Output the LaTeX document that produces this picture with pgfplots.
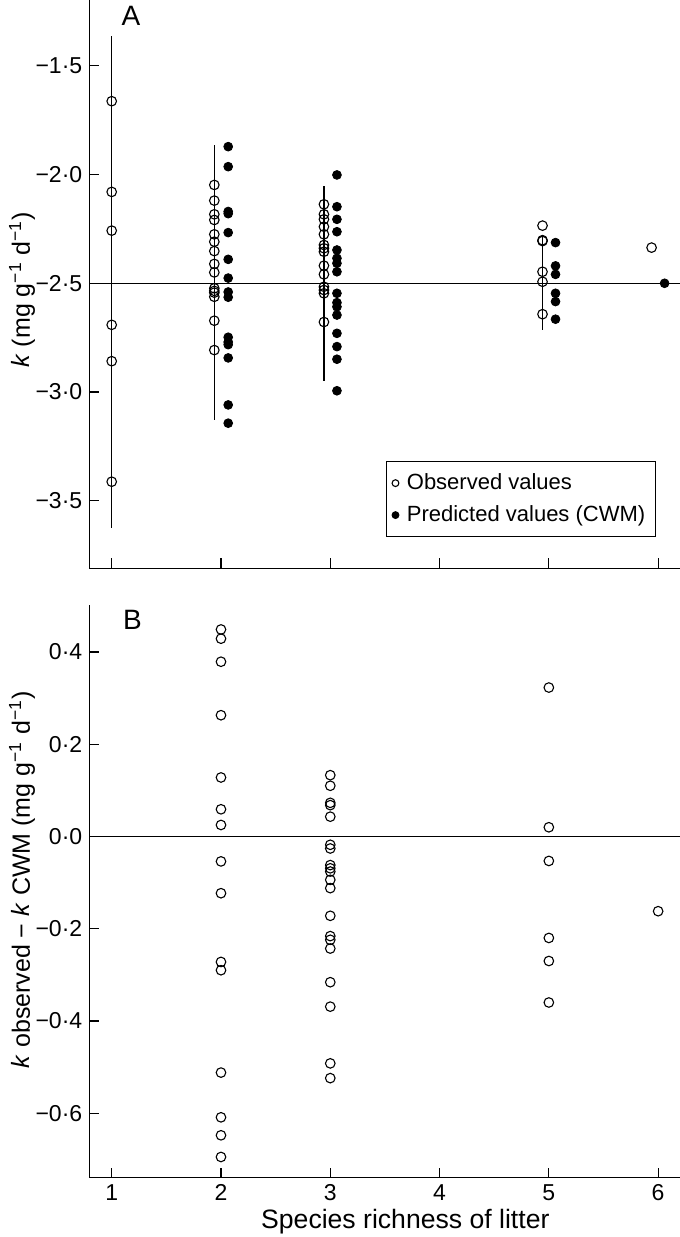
\documentclass[border=0pt]{standalone}
\usepackage{fontspec}
\setmainfont{Liberation Sans}
\usepackage{pgfplots}
\pgfplotsset{compat=1.18}
\begin{document}
\begin{tikzpicture}
\useasboundingbox (0,0) rectangle (340pt,-618.5pt);
\pgfplotsset{
  myax/.style={scale only axis, width=295.35pt, xmin=0.795, xmax=6.2,
    axis x line*=bottom, axis y line*=left, axis line style={-, line width=0.6pt},
    tick align=inside, major tick length=5pt, xtick={1,2,3,4,5,6},
    tick style={line width=0.6pt, black},
    tick label style={font=\fontsize{11.5}{13}\selectfont},
    clip=false},
  obs/.style={only marks, mark=o, mark size=2.4pt, mark options={line width=0.55pt}, black},
  pred/.style={only marks, mark=*, mark size=2.2pt, black},
  ref/.style={black, line width=0.6pt, no marks, forget plot}
}
\begin{axis}[myax, at={(44.65pt,0pt)}, anchor=north west, height=284.15pt,
  ymin=-3.81, ymax=-1.198, xticklabels={},
  ytick={-3.5,-3,-2.5,-2,-1.5}, yticklabels={−3·5,−3·0,−2·5,−2·0,−1·5},
  ylabel={\textit{k} (mg g\textsuperscript{−1} d\textsuperscript{−1})},
  every axis y label/.style={at={(axis description cs:-0.1139,0.49)}, rotate=90, anchor=center, font=\fontsize{12.5}{15}\selectfont},
  legend style={at={(axis description cs:0.959,0.055)}, anchor=south east, draw=black, line width=0.5pt,
    font=\fontsize{11}{13}\selectfont, cells={anchor=west}, inner xsep=3pt, inner ysep=4pt,
    column sep=2pt, row sep=2.5pt},
  legend cell align=left]
\addplot[obs, legend image post style={mark size=1.7pt}] coordinates {
 (1,-1.663) (1,-2.080) (1,-2.258) (1,-2.691) (1,-2.858) (1,-3.412)
 (1.939,-2.048) (1.939,-2.120) (1.939,-2.183) (1.939,-2.209) (1.939,-2.275) (1.939,-2.309)
 (1.939,-2.352) (1.939,-2.411) (1.939,-2.450) (1.939,-2.523) (1.939,-2.535) (1.939,-2.543)
 (1.939,-2.562) (1.939,-2.672) (1.939,-2.807)
 (2.942,-2.137) (2.942,-2.183) (2.942,-2.206) (2.942,-2.240) (2.942,-2.275) (2.942,-2.324)
 (2.942,-2.339) (2.942,-2.355) (2.942,-2.419) (2.942,-2.459) (2.942,-2.516) (2.942,-2.531)
 (2.942,-2.546) (2.942,-2.678)
 (4.942,-2.235) (4.942,-2.302) (4.942,-2.306) (4.942,-2.447) (4.942,-2.493) (4.942,-2.642)
 (5.94,-2.336)
};
\addlegendentry{Observed values}
\addplot[pred, legend image post style={mark size=1.7pt}] coordinates {
 (2.066,-1.872) (2.066,-1.964) (2.066,-2.170) (2.066,-2.180) (2.066,-2.267) (2.066,-2.390)
 (2.066,-2.476) (2.066,-2.540) (2.066,-2.564) (2.066,-2.748) (2.066,-2.770) (2.066,-2.782)
 (2.066,-2.843) (2.066,-3.059) (2.066,-3.143)
 (3.061,-2.002) (3.061,-2.148) (3.061,-2.206) (3.061,-2.263) (3.061,-2.347) (3.061,-2.385)
 (3.061,-2.408) (3.061,-2.447) (3.061,-2.546) (3.061,-2.589) (3.061,-2.608) (3.061,-2.646)
 (3.061,-2.730) (3.061,-2.791) (3.061,-2.849) (3.061,-2.994)
 (5.061,-2.313) (5.061,-2.420) (5.061,-2.459) (5.061,-2.546) (5.061,-2.584) (5.061,-2.665)
 (6.059,-2.5)
};
\addlegendentry{Predicted values (CWM)}
\addplot[ref] coordinates {(0.795,-2.5) (6.2,-2.5)};
\addplot[ref] coordinates {(1,-1.364) (1,-3.625)};
\addplot[ref] coordinates {(1.939,-1.866) (1.939,-3.128)};
\addplot[ref] coordinates {(2.942,-2.053) (2.942,-2.947)};
\addplot[ref] coordinates {(4.942,-2.286) (4.942,-2.715)};
\node[font=\fontsize{14}{16}\selectfont] at (rel axis cs:0.0706,0.9726) {A};
\end{axis}
\begin{axis}[myax, at={(44.65pt,-302.5pt)}, anchor=north west, height=286.35pt,
  ymin=-0.74, ymax=0.502, xticklabels={1,2,3,4,5,6},
  ytick={-0.6,-0.4,-0.2,0,0.2,0.4}, yticklabels={−0·6,−0·4,−0·2,0·0,0·2,0·4},
  ylabel={\textit{k} observed − \textit{k} CWM (mg g\textsuperscript{−1} d\textsuperscript{−1})},
  every axis y label/.style={at={(axis description cs:-0.1139,0.52)}, rotate=90, anchor=center, font=\fontsize{12.5}{15}\selectfont},
  xlabel={Species richness of litter},
  every axis x label/.style={at={(axis description cs:0.535,0)}, anchor=center, yshift=-22.15pt, font=\fontsize{13.3}{16}\selectfont}]
\addplot[obs] coordinates {
 (2,0.449) (2,0.429) (2,0.379) (2,0.263) (2,0.128) (2,0.059) (2,0.025) (2,-0.054) (2,-0.123)
 (2,-0.272) (2,-0.290) (2,-0.512) (2,-0.609) (2,-0.648) (2,-0.695)
 (3,0.133) (3,0.110) (3,0.073) (3,0.068) (3,0.043) (3,-0.018) (3,-0.026) (3,-0.062) (3,-0.069)
 (3,-0.076) (3,-0.094) (3,-0.112) (3,-0.172) (3,-0.216) (3,-0.224) (3,-0.243) (3,-0.316)
 (3,-0.369) (3,-0.492) (3,-0.524)
 (5,0.323) (5,0.020) (5,-0.053) (5,-0.220) (5,-0.270) (5,-0.360)
 (6,-0.162)
};
\addplot[ref] coordinates {(0.795,0) (6.2,0)};
\node[font=\fontsize{14}{16}\selectfont] at (rel axis cs:0.0729,0.974) {B};
\end{axis}
\end{tikzpicture}
\end{document}
